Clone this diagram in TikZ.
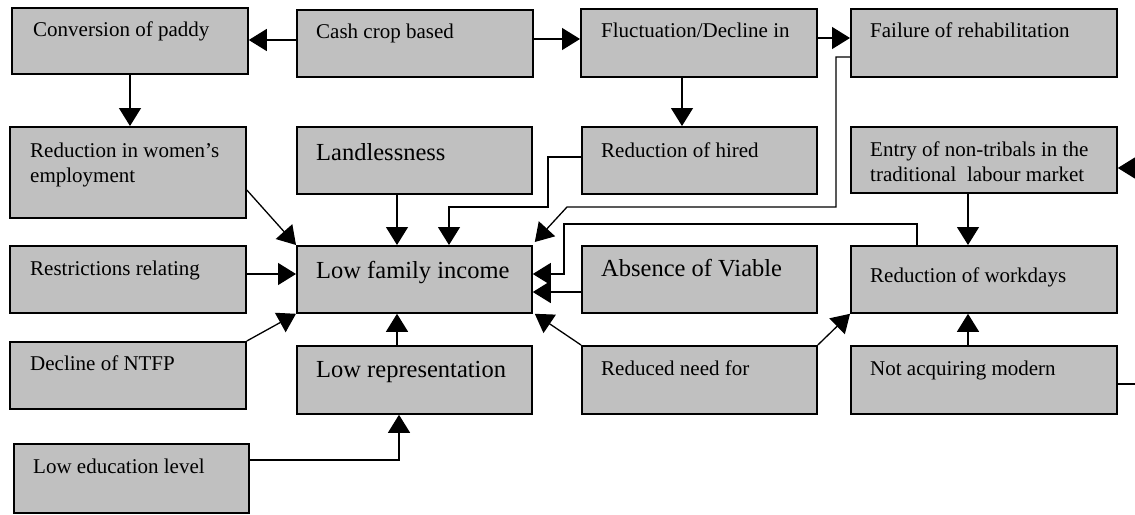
\documentclass[tikz,border=0pt]{standalone}
\usepackage{fontspec}
\setmainfont{Liberation Serif}
\usetikzlibrary{arrows.meta}
\definecolor{boxgray}{RGB}{192,192,192}
\begin{document}
\begin{tikzpicture}[x=1pt,y=-1pt,
  box/.style={draw=black, line width=1.8pt, fill=boxgray, inner sep=0pt, anchor=north west},
  lbl/.style={anchor=base west, inner sep=0pt, font=\fontsize{21}{24.5}\selectfont, align=left},
  biglbl/.style={anchor=base west, inner sep=0pt, font=\fontsize{24.5}{29}\selectfont},
  arr/.style={line width=1.3pt, -{Triangle[length=18pt,width=22pt]}},
]
\useasboundingbox (0,0) rectangle (1135,514);
\clip (0,0) rectangle (1135,514);

% ---- boxes ----
\node[box, minimum width=236pt, minimum height=66pt] (conv) at (11,7) {};
\node[box, minimum width=236pt, minimum height=67pt] (cash) at (296,9) {};
\node[box, minimum width=236pt, minimum height=68pt] (fluct) at (580,8) {};
\node[box, minimum width=266pt, minimum height=68pt] (fail) at (850,8) {};

\node[box, minimum width=236pt, minimum height=91pt] (women) at (9,126) {};
\node[box, minimum width=235pt, minimum height=67pt] (land) at (296,126) {};
\node[box, minimum width=235pt, minimum height=67pt] (hired) at (581,126) {};
\node[box, minimum width=266pt, minimum height=66pt] (entry) at (850,126) {};

\node[box, minimum width=236pt, minimum height=67pt] (restr) at (9,245) {};
\node[box, minimum width=235pt, minimum height=67pt] (income) at (296,245) {};
\node[box, minimum width=235pt, minimum height=67pt] (absence) at (581,245) {};
\node[box, minimum width=266pt, minimum height=67pt] (workdays) at (850,245) {};

\node[box, minimum width=236pt, minimum height=67pt] (ntfp) at (9,341) {};
\node[box, minimum width=235pt, minimum height=68pt] (rep) at (296,345) {};
\node[box, minimum width=235pt, minimum height=68pt] (reduced) at (581,345) {};
\node[box, minimum width=266pt, minimum height=68pt] (notacq) at (850,345) {};

\node[box, minimum width=235pt, minimum height=69pt] (edu) at (13,443) {};

% ---- labels (two-line labels are placed by their last baseline) ----
\node[lbl] (conv-t) at (33,36) {Conversion of paddy};
\node[lbl] (cash-t) at (316,38) {Cash crop based};
\node[lbl] (fluct-t) at (601,37) {Fluctuation/Decline in};
\node[lbl] (fail-t) at (870,37) {Failure of rehabilitation};
\node[lbl] (women-t) at (30,182) {Reduction in women’s\\employment};
\node[biglbl] (land-t) at (316,160) {Landlessness};
\node[lbl] (hired-t) at (601,157) {Reduction of hired};
\node[lbl] (entry-t) at (870,181) {Entry of non-tribals in the\\traditional~ labour market};
\node[lbl] (restr-t) at (30,275) {Restrictions relating};
\node[biglbl] (income-t) at (316,278) {Low family income};
\node[biglbl] (absence-t) at (601,276) {Absence of Viable};
\node[lbl] (workdays-t) at (870,282) {Reduction of workdays};
\node[lbl] (ntfp-t) at (30,370) {Decline of NTFP};
\node[biglbl] (rep-t) at (316,377) {Low representation};
\node[lbl] (reduced-t) at (601,375) {Reduced need for};
\node[lbl] (notacq-t) at (870,375) {Not acquiring modern};
\node[lbl] (edu-t) at (33,473) {Low education level};

% ---- connectors ----
\draw[arr] (cash.west |- 0,40) -- (conv.east |- 0,40);
\draw[arr] (cash.east |- 0,39) -- (fluct.west |- 0,39);
\draw[arr] (fluct.east |- 0,38) -- (fail.west |- 0,38);
\draw[arr] (conv.south -| 130,0) -- (women.north -| 130,0);
\draw[arr] (fluct.south -| 682,0) -- (hired.north -| 682,0);

\draw[arr] (fail.west |- 0,57) -| (836,207) -- (567,207) -- ([xshift=2pt,yshift=3pt]income.north east);
\draw[arr] (hired.west |- 0,157) -| (548,207) -| (income.north -| 449,0);
\draw[arr] (workdays.north -| 917,0) |- (564,224) |- (income.east |- 0,274);
\draw[arr] (absence.west |- 0,292) -- (income.east |- 0,292);
\draw[arr] (reduced.north west) -- ([xshift=2pt]income.south east);
\draw[arr] (reduced.north east) -- (workdays.south west);
\draw[arr] (notacq.north -| 968,0) -- (workdays.south -| 968,0);
\draw[arr] (entry.south -| 968,0) -- (workdays.north -| 968,0);
\draw[arr] (notacq.east |- 0,384) -- (1160,384) |- (entry.east |- 0,168);

\draw[arr] (women.east |- 0,190) -- (income.north west);
\draw[arr] (land.south -| 397,0) -- (income.north -| 397,0);
\draw[arr] (restr.east |- 0,274) -- (income.west |- 0,274);
\draw[arr] (ntfp.north east) -- (income.south west);
\draw[arr] (rep.north -| 397,0) -- (income.south -| 397,0);
\draw[arr] (edu.east |- 0,460) -| (rep.south -| 399,0);
\end{tikzpicture}
\end{document}
